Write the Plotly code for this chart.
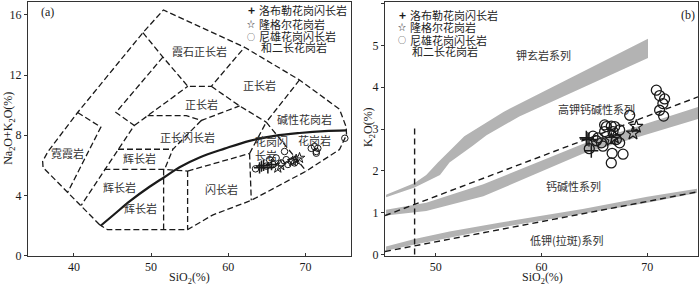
import plotly.graph_objects as go

W, H = 700, 293

# ---------------- Panel (a): TAS diagram data ----------------
luobule_sio2_a = [64.05, 64.57, 65.13, 64.30, 65.60]
luobule_alk = [5.84, 6.00, 5.84, 5.95, 6.05]
longgeer_sio2_a = [66.42, 68.80, 69.23, 68.36, 66.80]
longgeer_alk = [5.84, 6.38, 6.49, 6.27, 6.00]
nixiong_sio2_a = [63.53, 64.92, 65.35, 65.78, 66.20, 66.86, 67.29, 67.50, 67.72,
                  68.16, 68.58, 70.75, 71.18, 71.40, 71.60, 71.40, 75.10]
nixiong_alk = [5.77, 5.95, 6.38, 6.06, 6.49, 6.16, 6.92, 6.38, 6.06,
               6.27, 6.16, 7.13, 7.24, 6.92, 7.13, 6.81, 7.80]

# alkaline / subalkaline divide (solid)
divide_x = [43.46, 45.27, 47.21, 49.80, 51.75, 53.69, 56.28, 59.52, 62.76, 66.00, 69.23, 72.47, 75.32]
divide_y = [1.99, 2.77, 3.61, 4.58, 5.23, 5.88, 6.53, 7.11, 7.63, 7.96, 8.15, 8.28, 8.33]

# field boundaries (dashed)
outer_boundary = [(43.33, 2.06), (39.2, 4.22), (36.0, 5.86), (35.95, 6.27), (36.64, 6.92),
                  (40.48, 9.51), (48.94, 14.81), (51.6, 16.32), (62.11, 13.84), (69.23, 11.67),
                  (74.41, 9.73), (75.28, 8.54), (75.32, 8.02), (74.41, 7.05), (70.10, 5.62),
                  (62.98, 3.68), (60.4, 3.15), (57.96, 2.70), (54.73, 1.73), (44.36, 1.73), (43.33, 2.06)]
nepheline_syenite_base = [(48.94, 14.81), (51.53, 13.19), (54.76, 11.25), (57.80, 11.25), (62.11, 13.84)]
syenite_left = [(51.53, 13.19), (45.44, 9.51), (47.82, 8.65), (40.95, 3.35)]
ijolite_right = [(40.48, 9.51), (43.49, 8.54), (39.2, 4.22)]
syenite_lower_left = [(47.82, 8.65), (54.76, 11.25)]
syenodiorite_top = [(49.55, 9.30), (54.56, 9.30), (56.50, 8.98), (61.46, 9.95)]
syenodiorite_right = [(56.50, 8.98), (52.82, 7.07), (51.75, 5.73)]
gabbro_box_top = [(45.71, 7.07), (52.82, 7.07)]
gabbro_box_bottom = [(43.94, 5.73), (51.75, 5.73), (54.73, 5.62)]
gabbro_split = [(51.62, 5.73), (51.62, 1.73)]
diorite_left = [(54.73, 5.62), (54.73, 1.73)]
diorite_top = [(54.73, 5.62), (62.76, 6.79)]
diorite_right = [(62.76, 6.79), (62.98, 3.68)]
granodiorite_left = [(62.76, 6.79), (64.92, 8.87)]
alkali_granite_left = [(69.23, 11.67), (64.92, 8.87)]
granite_left = [(64.92, 8.87), (70.10, 5.62)]
syenite_upper_base = [(57.80, 11.25), (61.46, 9.95), (64.92, 8.87)]
tas_boundaries = [outer_boundary, nepheline_syenite_base, syenite_left, ijolite_right,
                  syenite_lower_left, syenodiorite_top, syenodiorite_right, gabbro_box_top,
                  gabbro_box_bottom, gabbro_split, diorite_left, diorite_top, diorite_right,
                  granodiorite_left, alkali_granite_left, granite_left, syenite_upper_base]

tas_labels = ["霞石正长岩", "正长岩", "正长岩", "碱性花岗岩", "正长闪长岩", "花岗岩",
              "霓霞岩", "辉长岩", "辉长岩", "辉长岩", "闪长岩"]
tas_label_x = [56.28, 64.05, 56.50, 69.88, 54.77, 71.18, 39.18, 48.47, 45.88, 48.68, 59.09]
tas_label_y = [13.62, 11.31, 10.10, 9.08, 7.90, 7.68, 6.81, 6.49, 4.54, 3.14, 4.44]

# ---------------- Panel (b): SiO2 - K2O data ----------------
luobule_sio2_b = [64.24, 64.49, 64.71, 64.30]
luobule_k2o = [2.79, 2.75, 2.48, 2.76]
longgeer_sio2_b = [66.60, 66.90, 68.65, 68.97]
longgeer_k2o = [2.75, 2.80, 2.90, 3.06]
nixiong_sio2_b = [64.52, 64.87, 65.20, 65.35, 65.67, 65.81, 65.97, 65.97, 66.14, 66.60,
                  66.92, 66.76, 67.39, 67.08, 67.39, 66.68, 66.60, 67.71, 68.34,
                  70.86, 71.17, 71.64, 71.48, 71.17, 71.55]
nixiong_k2o = [2.53, 2.83, 2.72, 2.79, 2.67, 2.59, 2.94, 3.10, 3.06, 3.07,
               3.06, 2.94, 2.98, 2.75, 2.67, 2.42, 2.19, 2.40, 3.33,
               3.93, 3.80, 3.72, 3.61, 3.45, 3.31]

band_shoshonite = [(45.3, 1.43), (48.0, 1.71), (49.1, 1.90), (50.2, 2.20), (51.8, 2.60), (52.7, 2.83),
                   (56.4, 3.41), (70.07, 5.16), (70.07, 4.70), (57.9, 3.30), (54.8, 2.85),
                   (53.5, 2.60), (51.3, 2.20), (50.4, 1.90), (48.0, 1.60), (45.3, 1.37)]
band_highk = [(45.3, 1.07), (49.1, 1.24), (54.5, 1.68), (63.9, 2.64), (74.8, 3.53),
              (74.8, 3.24), (63.9, 2.41), (54.5, 1.39), (49.1, 1.04), (45.3, 0.93)]
band_lowk = [(45.3, 0.19), (48.0, 0.37), (51.3, 0.55), (56.0, 0.76), (63.9, 1.09), (70.0, 1.38),
             (74.7, 1.57), (74.7, 1.47), (70.0, 1.24), (63.9, 0.98), (56.0, 0.64), (51.3, 0.40),
             (48.0, 0.24), (45.3, 0.09)]
line_highk = [(45.2, 0.93), (74.8, 3.77)]
line_lowk = [(45.2, 0.07), (74.8, 1.50)]
line_sio2_48 = [(48.0, 0.0), (48.0, 3.1)]

series_labels = ["钾玄岩系列", "高钾钙碱性系列", "钙碱性系列", "低钾(拉斑)系列"]
series_label_x = [60.15, 65.19, 62.98, 62.35]
series_label_y = [4.77, 3.49, 1.63, 0.34]

legend_names = ["洛布勒花岗闪长岩", "隆格尔花岗岩", "尼雄花岗闪长岩", "和二长花岗岩"]

# ---------------- figure ----------------
CJK = "Noto Sans CJK SC"
SERIF = "Liberation Serif"
INK = "#1a1a1a"
fig = go.Figure()


def add_line(pts, xa, ya, dash="6px,3px", width=1.3):
    fig.add_trace(go.Scatter(x=[p[0] for p in pts], y=[p[1] for p in pts], mode="lines",
                             line=dict(color=INK, width=width, dash=dash),
                             xaxis=xa, yaxis=ya, showlegend=False, hoverinfo="skip"))


# panel (a)
for seg in tas_boundaries:
    add_line(seg, "x", "y")
fig.add_trace(go.Scatter(x=divide_x, y=divide_y, mode="lines", line=dict(color=INK, width=2.2, shape="spline"),
                         xaxis="x", yaxis="y", showlegend=False, hoverinfo="skip"))

# panel (b)
for band in [band_shoshonite, band_highk, band_lowk]:
    fig.add_trace(go.Scatter(x=[p[0] for p in band], y=[p[1] for p in band], mode="lines", fill="toself",
                             fillcolor="#b3b3b3", line=dict(width=0, color="#b3b3b3"),
                             xaxis="x2", yaxis="y2", showlegend=False, hoverinfo="skip"))
for ln in [line_highk, line_lowk, line_sio2_48]:
    add_line(ln, "x2", "y2", dash="6px,4px", width=1.4)


def add_points(xs, ys, symbol, size, lw, xa, ya):
    fig.add_trace(go.Scatter(x=xs, y=ys, mode="markers",
                             marker=dict(symbol=symbol, size=size, color=INK,
                                         line=dict(color=INK, width=lw)),
                             xaxis=xa, yaxis=ya, showlegend=False))


add_points(nixiong_sio2_a, nixiong_alk, "circle-open", 6.5, 1.0, "x", "y")
add_points(luobule_sio2_a, luobule_alk, "cross-thin-open", 8, 1.5, "x", "y")
add_points(longgeer_sio2_a, longgeer_alk, "star-open", 8, 1.0, "x", "y")
add_points(nixiong_sio2_b, nixiong_k2o, "circle-open", 10, 1.3, "x2", "y2")
add_points(luobule_sio2_b, luobule_k2o, "cross-thin-open", 10, 1.5, "x2", "y2")
add_points(longgeer_sio2_b, longgeer_k2o, "star-open", 10, 1.2, "x2", "y2")

ann = []
for t, x, y in zip(tas_labels, tas_label_x, tas_label_y):
    ann.append(dict(text=t, x=x, y=y, xref="x", yref="y", showarrow=False,
                    xanchor="center", yanchor="middle",
                    font=dict(family=CJK, size=11, color="#333")))
ann.append(dict(text="花岗闪<br>长岩", x=63.2, y=7.15, xref="x", yref="y", showarrow=False,
                xanchor="left", yanchor="middle", align="left",
                font=dict(family=CJK, size=11, color="#333")))
for t, x, y in zip(series_labels, series_label_x, series_label_y):
    ann.append(dict(text=t, x=x, y=y, xref="x2", yref="y2", showarrow=False,
                    xanchor="center", yanchor="middle",
                    font=dict(family=CJK, size=11, color="#333")))


def px(x):
    return x / W


def py(y):
    return 1 - y / H


def paper_text(text, x, y, size=12, family=SERIF, xanchor="center", angle=0, color=INK):
    ann.append(dict(text=text, x=px(x), y=py(y), xref="paper", yref="paper", showarrow=False,
                    xanchor=xanchor, yanchor="middle", textangle=angle,
                    font=dict(family=family, size=size, color=color)))


# legends (text rows)
legend_syms = ["<b>+</b>", "☆", "○", ""]
for (sx, tx, rows) in [(251.5, 257, [10, 24.5, 37, 48.5]), (402, 408, [15, 27.5, 40.5, 52])]:
    for i, (sym, name, ry) in enumerate(zip(legend_syms, legend_names, rows)):
        if sym:
            paper_text(sym, sx, ry, size=12 if i == 0 else 8, family=CJK)
        paper_text(name, tx + (2 if i == 3 else 0), ry, size=11, family=CJK, xanchor="left", color="#222")

# panel tags
paper_text("(a)", 47, 12)
paper_text("(b)", 688, 15)

# axis titles
paper_text("SiO<sub>2</sub>(%)", 189.5, 285)
paper_text("SiO<sub>2</sub>(%)", 542, 285)
paper_text("Na<sub>2</sub>O+K<sub>2</sub>O(%)", 9, 132, angle=-90)
paper_text("K<sub>2</sub>O(%)", 369, 130, angle=-90)

axis_common = dict(showgrid=False, zeroline=False, showline=True, linecolor="#333", linewidth=1.2,
                   mirror=True, tickfont=dict(family=SERIF, size=12, color=INK), tickcolor="#333",
                   ticklen=3, tickwidth=1)

fig.update_layout(
    width=W, height=H, margin=dict(l=0, r=0, t=0, b=0),
    paper_bgcolor="white", plot_bgcolor="white", showlegend=False,
    xaxis=dict(domain=[px(28), px(351)], range=[34.05, 75.9], tickvals=[40, 50, 60, 70],
               ticks="inside", anchor="y", **axis_common),
    yaxis=dict(domain=[py(262), py(2)], range=[0, 16.85], tickvals=[0, 4, 8, 12, 16],
               ticks="outside", anchor="x", **axis_common),
    xaxis2=dict(domain=[px(385), px(698)], range=[45.2, 74.8], tickvals=[50, 60, 70],
                ticks="inside", anchor="y2", **axis_common),
    yaxis2=dict(domain=[py(262), py(2)], range=[-0.03, 6.04], tickvals=[0, 1, 2, 3, 4, 5, 6],
                ticks="outside", anchor="x2", **axis_common),
    annotations=ann,
)

fig.write_html("out.html", config={"displayModeBar": False},
               post_script="document.body.style.margin='0';document.body.style.padding='0';")
